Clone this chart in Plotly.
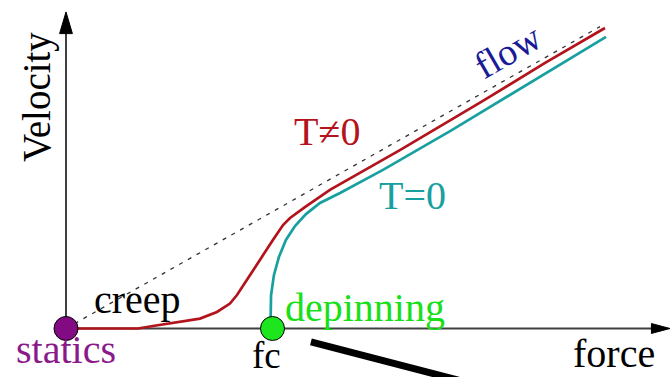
import plotly.graph_objects as go

# Force / velocity in units where the depinning threshold fc = 1
red_f = [0.0, 0.349, 0.421, 0.538, 0.649, 0.731, 0.794, 0.828, 0.877, 0.939, 1.002,
         1.051, 1.085, 1.157, 1.278, 1.424, 1.617, 2.019, 2.320, 2.610]
red_v = [0.0, 0.0, 0.012, 0.031, 0.048, 0.080, 0.121, 0.162, 0.235, 0.332, 0.429,
         0.501, 0.535, 0.588, 0.671, 0.753, 0.864, 1.102, 1.286, 1.455]

teal_f = [0.990, 0.993, 1.007, 1.031, 1.065, 1.109, 1.162, 1.230, 1.327, 1.535,
          1.860, 2.102, 2.615]
teal_v = [0.0, 0.162, 0.259, 0.346, 0.429, 0.496, 0.554, 0.608, 0.656, 0.768,
          0.956, 1.102, 1.412]

flow_f = [0.0, 2.586]
flow_v = [0.0, 1.462]

stroke_f = [1.186, 1.90]
stroke_v = [-0.065, -0.250]

point_f = [0.0, 1.0]
point_v = [0.0, 0.0]
point_colors = ["#820a82", "#1ee61e"]

X_RANGE = [-0.3196, 2.9346]
Y_RANGE = [-0.2349, 1.5908]
X_END = 2.925   # tip of the force arrow
Y_END = 1.533   # tip of the velocity arrow

SERIF = "Times New Roman"
RED = "#b3141c"
TEAL = "#18a0a0"

fig = go.Figure()

# axes
fig.add_trace(go.Scatter(x=[0, X_END - 0.05], y=[0, 0], mode="lines",
                         line=dict(color="#404040", width=2), hoverinfo="skip"))
fig.add_trace(go.Scatter(x=[0, 0], y=[0, Y_END - 0.05], mode="lines",
                         line=dict(color="#404040", width=2), hoverinfo="skip"))

# linear flow asymptote
fig.add_trace(go.Scatter(x=flow_f, y=flow_v, mode="lines",
                         line=dict(color="#333333", width=1.3, dash="4px,6px"),
                         hoverinfo="skip"))
# T != 0 and T = 0 velocity-force curves
fig.add_trace(go.Scatter(x=red_f, y=red_v, mode="lines",
                         line=dict(color=RED, width=2.7), hoverinfo="skip"))
fig.add_trace(go.Scatter(x=teal_f, y=teal_v, mode="lines",
                         line=dict(color=TEAL, width=2.7), hoverinfo="skip"))
# black stroke below the axis
fig.add_trace(go.Scatter(x=stroke_f, y=stroke_v, mode="lines",
                         line=dict(color="black", width=7), hoverinfo="skip"))
# statics and depinning points
fig.add_trace(go.Scatter(x=point_f, y=point_v, mode="markers",
                         marker=dict(size=24, color=point_colors,
                                     line=dict(color="black", width=1)),
                         hoverinfo="skip"))

# arrow heads
fig.add_shape(type="path",
              path=f"M {X_END} 0 L {X_END - 0.09} 0.024 L {X_END - 0.09} -0.024 Z",
              fillcolor="black", line=dict(color="black", width=1))
fig.add_shape(type="path",
              path=f"M 0 {Y_END} L -0.031 {Y_END - 0.105} L 0.031 {Y_END - 0.105} Z",
              fillcolor="black", line=dict(color="black", width=1))

labels = [
    ("Velocity", -0.140, 1.121, "black", 39, -90),
    ("creep", 0.344, 0.140, "black", 40, 0),
    ("statics", 0.0, -0.104, "#8a1a8a", 40, 0),
    ("fc", 0.973, -0.130, "black", 37, 0),
    ("depinning", 1.448, 0.101, "#18e018", 40, 0),
    ("force", 2.654, -0.119, "black", 40, 0),
    ("T≠0", 1.264, 0.952, RED, 40, 0),
    ("T=0", 1.676, 0.646, TEAL, 40, 0),
    ("flow", 2.140, 1.342, "#1a1a96", 38, -30),
]
for text, fx, vy, color, size, angle in labels:
    fig.add_annotation(x=fx, y=vy, text=text, showarrow=False, textangle=angle,
                       xanchor="center", yanchor="middle",
                       font=dict(family=SERIF, size=size, color=color))

fig.update_layout(
    width=672, height=377,
    margin=dict(l=0, r=0, t=0, b=0),
    font=dict(family=SERIF),
    paper_bgcolor="white", plot_bgcolor="white",
    showlegend=False,
    xaxis=dict(range=X_RANGE, visible=False, fixedrange=True),
    yaxis=dict(range=Y_RANGE, visible=False, fixedrange=True),
)

fig.write_html("out.html")
